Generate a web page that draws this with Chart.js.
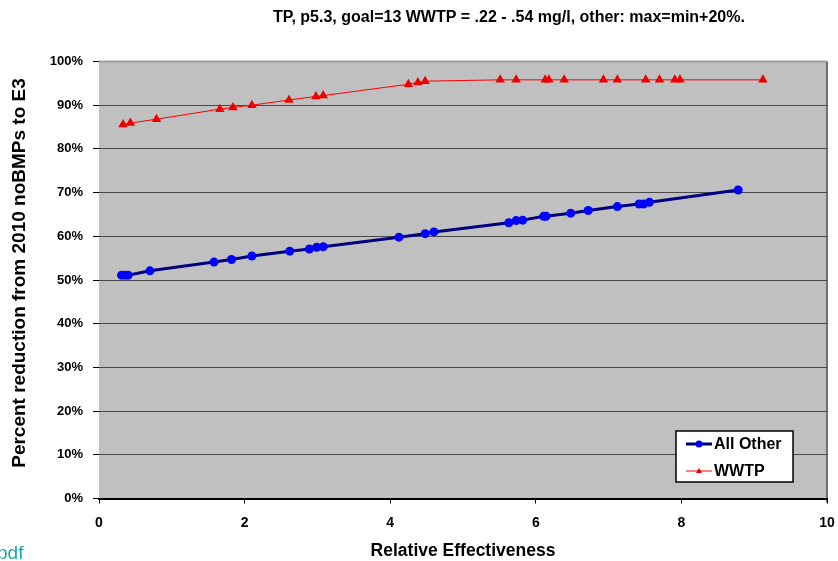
<!DOCTYPE html>
<html lang="en">
<head>
    <meta charset="UTF-8">
    <title>TP reduction vs relative effectiveness</title>
    <script src="https://cdn.jsdelivr.net/npm/chart.js"></script>
    <style>
        body { margin: 0; background: #fff; }
        .wrap { position: relative; width: 838px; height: 561px; overflow: hidden; }
        .note { position: absolute; left: -3px; top: 542px; font: 19px "Liberation Sans", Arial, sans-serif; color: #1aa6a6; }
    </style>
</head>
<body>
    <div class="wrap">
        <canvas id="chart" width="838" height="561"></canvas>
        <div class="note">pdf</div>
    </div>

    <script>
        // values
        const allOtherX = [0.31, 0.36, 0.40, 0.70, 1.58, 1.82, 2.10, 2.62, 2.89, 2.99, 3.08, 4.12, 4.48, 4.60, 5.63, 5.73, 5.82, 6.11, 6.14, 6.48, 6.72, 7.12, 7.42, 7.48, 7.56, 8.78];
        const allOtherY = [51.1, 51.1, 51.1, 52.1, 54.1, 54.7, 55.5, 56.6, 57.1, 57.5, 57.6, 59.8, 60.6, 61.0, 63.1, 63.6, 63.7, 64.6, 64.6, 65.3, 65.9, 66.8, 67.4, 67.4, 67.8, 70.6];
        const wwtpX = [0.33, 0.43, 0.79, 1.66, 1.84, 2.10, 2.61, 2.98, 3.08, 4.25, 4.38, 4.48, 5.51, 5.73, 6.13, 6.18, 6.39, 6.93, 7.12, 7.51, 7.70, 7.91, 7.98, 9.12];
        const wwtpY = [85.6, 85.9, 86.8, 89.1, 89.5, 90.0, 91.2, 92.0, 92.2, 94.8, 95.2, 95.5, 95.8, 95.8, 95.8, 95.8, 95.8, 95.8, 95.8, 95.8, 95.8, 95.8, 95.8, 95.8];
        const seriesNames = ['All Other', 'WWTP'];
        const xTicks = [0, 2, 4, 6, 8, 10];
        const chartTitle = 'TP, p5.3, goal=13 WWTP = .22 - .54 mg/l, other: max=min+20%.';
        const yTitle = 'Percent reduction from 2010 noBMPs to E3';

        const toPoints = (xs, ys) => xs.map((x, i) => ({ x, y: ys[i] }));
        const FONT = '"Liberation Sans", Arial, sans-serif';

        // gray plot area with its thin border, plus the two titles that sit off-centre in the original
        const plotBackground = {
            id: 'plotBackground',
            beforeDraw(chart) {
                const { ctx, chartArea: a } = chart;
                ctx.save();
                ctx.fillStyle = '#c0c0c0';
                ctx.fillRect(a.left, a.top, a.right - a.left, a.bottom - a.top);
                ctx.strokeStyle = '#a0a0a0';
                ctx.lineWidth = 2;
                ctx.beginPath();
                ctx.moveTo(a.left, a.top);
                ctx.lineTo(a.right, a.top);
                ctx.stroke();
                ctx.strokeStyle = '#707070';
                ctx.beginPath();
                ctx.moveTo(a.right, a.top);
                ctx.lineTo(a.right, a.bottom + 4);
                ctx.stroke();

                ctx.fillStyle = '#000';
                ctx.font = 'bold 16px ' + FONT;
                ctx.textAlign = 'center';
                ctx.textBaseline = 'middle';
                ctx.fillText(chartTitle, 509, 18);

                ctx.translate(20, 273);
                ctx.rotate(-Math.PI / 2);
                ctx.font = 'bold 19px ' + FONT;
                ctx.fillText(yTitle, 0, 0);
                ctx.restore();
            }
        };

        // legend box inside the plot, bottom right
        const boxLegend = {
            id: 'boxLegend',
            afterDraw(chart) {
                const { ctx } = chart;
                const x0 = 676, y0 = 431, w = 117, h = 51;
                ctx.save();
                ctx.fillStyle = '#fff';
                ctx.fillRect(x0, y0, w, h);
                ctx.strokeStyle = '#000';
                ctx.lineWidth = 1.5;
                ctx.strokeRect(x0, y0, w, h);
                chart.data.datasets.forEach((ds, i) => {
                    const y = y0 + 13 + i * 27;
                    ctx.strokeStyle = ds.borderColor;
                    ctx.lineWidth = ds.borderWidth;
                    ctx.beginPath();
                    ctx.moveTo(686, y);
                    ctx.lineTo(712, y);
                    ctx.stroke();
                    ctx.fillStyle = ds.pointBackgroundColor;
                    ctx.beginPath();
                    if (ds.pointStyle === 'triangle') {
                        ctx.moveTo(699, y - 3);
                        ctx.lineTo(702, y + 2);
                        ctx.lineTo(696, y + 2);
                    } else {
                        ctx.arc(699, y, 3.5, 0, Math.PI * 2);
                    }
                    ctx.fill();
                    ctx.fillStyle = '#000';
                    ctx.font = 'bold 16px ' + FONT;
                    ctx.textBaseline = 'middle';
                    ctx.fillText(ds.label, 714, y + 1);
                });
                ctx.restore();
            }
        };

        new Chart(document.getElementById('chart'), {
            type: 'scatter',
            data: {
                datasets: [
                    {
                        label: seriesNames[0],
                        data: toPoints(allOtherX, allOtherY),
                        showLine: true,
                        borderColor: '#000080',
                        borderWidth: 3,
                        pointStyle: 'circle',
                        pointRadius: 4.5,
                        pointBackgroundColor: '#0000ff',
                        pointBorderColor: '#0000ff',
                        pointBorderWidth: 0,
                        tension: 0,
                    },
                    {
                        label: seriesNames[1],
                        data: toPoints(wwtpX, wwtpY),
                        showLine: true,
                        borderColor: '#ff0000',
                        borderWidth: 1,
                        pointStyle: 'triangle',
                        pointRadius: 5.5,
                        pointBackgroundColor: '#ee0000',
                        pointBorderColor: '#ee0000',
                        pointBorderWidth: 0,
                        tension: 0,
                    },
                ],
            },
            options: {
                responsive: false,
                animation: false,
                layout: { padding: { left: 0, right: 11, top: 61.5, bottom: 0 } },
                plugins: {
                    legend: { display: false },
                    tooltip: { enabled: false },
                    title: { display: false },
                },
                scales: {
                    x: {
                        type: 'linear',
                        min: 0,
                        max: 10,
                        afterBuildTicks: (scale) => { scale.ticks = xTicks.map(v => ({ value: v })); },
                        afterFit: (scale) => {
                            scale.height = 62.5;
                            scale.paddingRight = 0;
                        },
                        ticks: {
                            color: '#000',
                            font: { family: FONT, size: 14, weight: 'bold' },
                            padding: 11,
                            maxRotation: 0,
                        },
                        grid: { drawOnChartArea: false, drawTicks: true, tickLength: 5, tickColor: '#000' },
                        border: { display: true, color: '#000', width: 2 },
                        title: {
                            display: true,
                            text: 'Relative Effectiveness',
                            color: '#000',
                            font: { family: FONT, size: 17.5, weight: 'bold', lineHeight: 1.1 },
                            padding: { top: 0, bottom: 0 },
                        },
                    },
                    y: {
                        min: 0,
                        max: 100,
                        afterFit: (scale) => { scale.width = 99; },
                        ticks: {
                            stepSize: 10,
                            color: '#000',
                            font: { family: FONT, size: 13, weight: 'bold' },
                            padding: 10,
                            callback: (v) => v + '%',
                        },
                        grid: {
                            color: (c) => (c.tick.value === 0 || c.tick.value === 100) ? 'rgba(0,0,0,0)' : '#4a4a4a',
                            borderDash: [3, 2],
                            lineWidth: 1,
                            drawTicks: true,
                            tickLength: 6,
                            tickColor: '#000',
                        },
                        border: { display: false },
                    },
                },
            },
            plugins: [plotBackground, boxLegend],
        });
    </script>
</body>
</html>
